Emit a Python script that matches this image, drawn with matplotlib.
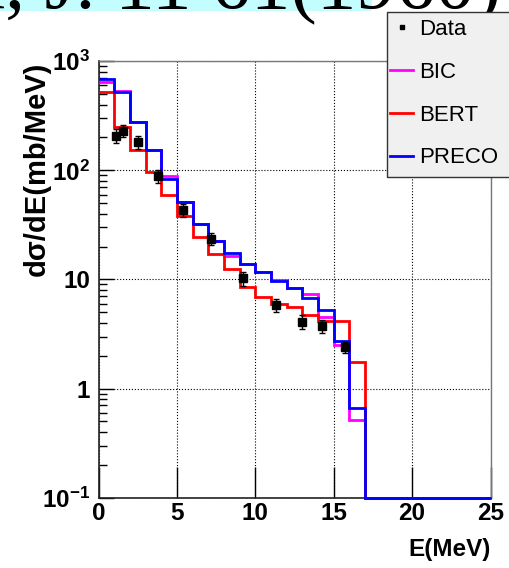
import numpy as np
import matplotlib
matplotlib.use('Agg')
import matplotlib.pyplot as plt
from matplotlib.patches import Rectangle
from matplotlib.ticker import FixedLocator, FixedFormatter, LogLocator, NullFormatter

plt.rcParams['font.family'] = ['Liberation Sans', 'DejaVu Sans']
plt.rcParams['mathtext.fontset'] = 'custom'
plt.rcParams['mathtext.rm'] = 'Liberation Sans:bold'
plt.rcParams['mathtext.bf'] = 'Liberation Sans:bold'

# histogram bin edges (MeV)
edges = np.arange(0, 26, 1)

# model spectra, d(sigma)/dE in mb/MeV, one value per 1 MeV bin
bic = [640, 530, 280, 155, 88, 51, 32.4, 22.3, 16.5, 13.9, 11.8, 9.9, 8.3, 7.3, 4.5, 2.5, 0.52,
       0, 0, 0, 0, 0, 0, 0, 0]
bert = [520, 248, 152, 97, 60, 38, 24.7, 17, 12.5, 8.6, 6.9, 6.0, 5.6, 4.7, 4.2, 4.2, 1.74,
        0, 0, 0, 0, 0, 0, 0, 0]
preco = [680, 524, 280, 155, 84, 51, 32.4, 22.3, 17.5, 13.9, 11.8, 9.7, 8.3, 6.7, 5.25, 2.75, 0.67,
         0, 0, 0, 0, 0, 0, 0, 0]

# measured points
data_e = [1.12, 1.58, 2.5, 3.82, 5.37, 7.17, 9.24, 11.3, 13.0, 14.25, 15.72]
data_y = [208, 231, 181, 89, 43, 23.7, 10.3, 5.8, 4.1, 3.75, 2.4]
data_err = [30, 30, 25, 12, 6, 3, 1.5, 0.8, 0.6, 0.5, 0.3]

y_ticks = [0.1, 1, 10, 100, 1000]
y_tick_labels = [r'$\mathbf{10^{-1}}$', '1', '10', r'$\mathbf{10^{2}}$', r'$\mathbf{10^{3}}$']
x_ticks = [0, 5, 10, 15, 20, 25]

YMIN, YMAX = 0.1, 1000

fig = plt.figure(figsize=(5.09, 5.68), dpi=100)
ax = fig.add_axes([98.5 / 509, 1 - 497.7 / 568, 392 / 509, 436.5 / 568])
ax.set_yscale('log')
ax.set_xlim(0, 25)
ax.set_ylim(YMIN, YMAX)

# empty bins are drawn on the lower frame, like ROOT does
h_bic = ax.stairs(np.maximum(bic, YMIN), edges, baseline=None, color='#ff00ff', lw=2,
                  label='BIC', clip_on=False, zorder=3)
h_bert = ax.stairs(np.maximum(bert, YMIN), edges, baseline=None, color='#ff0000', lw=2,
                   label='BERT', clip_on=False, zorder=3.1)
h_preco = ax.stairs(np.maximum(preco, YMIN), edges, baseline=None, color='#0000ff', lw=2,
                    label='PRECO', clip_on=False, zorder=3.2)
eb = ax.errorbar(data_e, data_y, yerr=data_err, fmt='s', color='black', ms=5.8,
                 elinewidth=1, capsize=2.5, zorder=4)

ax.grid(True, which='major', ls=':', color='black', lw=0.8)
ax.yaxis.set_major_locator(FixedLocator(y_ticks))
ax.yaxis.set_major_formatter(FixedFormatter(y_tick_labels))
ax.yaxis.set_minor_locator(LogLocator(base=10, subs=np.arange(2, 10)))
ax.yaxis.set_minor_formatter(NullFormatter())
ax.set_xticks(x_ticks)
ax.tick_params(axis='x', direction='in', length=22, width=1, pad=3, labelsize=17.5)
ax.tick_params(axis='y', which='major', direction='in', length=11, width=1, pad=6,
               labelsize=17.5)
ax.tick_params(axis='y', which='minor', direction='in', length=6, width=1)
for lab in ax.get_xticklabels() + ax.get_yticklabels():
    lab.set_fontweight('bold')
for side in ['left', 'bottom']:
    ax.spines[side].set_color('#222222')
    ax.spines[side].set_linewidth(1.2)
for side in ['top', 'right']:
    ax.spines[side].set_color('#777777')
    ax.spines[side].set_linewidth(1.0)

ax.set_xlabel('E(MeV)', fontsize=17.5, fontweight='bold', loc='right')
ax.xaxis.set_label_coords(1.0, -0.092)
ax.set_ylabel('d\u03c3/dE(mb/MeV)', fontsize=21, fontweight='bold', loc='top')
ax.yaxis.set_label_coords(-0.122, 1.0)

# leftover slide text above the pad, mostly cut off by the top edge
fig.patches.append(Rectangle((0, 1 - 11 / 568), 372 / 509, 20 / 568, transform=fig.transFigure,
                             facecolor='#c4fdfd', edgecolor='none', zorder=1))
fig.text(-30 / 509, 1 - 8 / 568, 'a, J. 11 61(1960) 30', fontsize=57,
         family=['Liberation Serif', 'DejaVu Serif'], va='baseline', ha='left', zorder=2)

# legend box, running off the right edge
fig.patches.append(Rectangle((387 / 509, 1 - 177 / 568), 140 / 509, 165 / 568,
                             transform=fig.transFigure, facecolor='#f0f0f0',
                             edgecolor='#333333', lw=1.0, zorder=5))
leg = fig.legend([eb.lines[0], h_bic, h_bert, h_preco],
                 ['Data', 'BIC', 'BERT', 'PRECO'],
                 loc='upper left', bbox_to_anchor=(390 / 509, 1 - 19 / 568),
                 frameon=False, fontsize=16, handlelength=1.05, handletextpad=0.25,
                 labelspacing=0.98, borderpad=0, borderaxespad=0, markerscale=0.6)
leg.set_zorder(6)

fig.savefig('out.png', dpi=100)
